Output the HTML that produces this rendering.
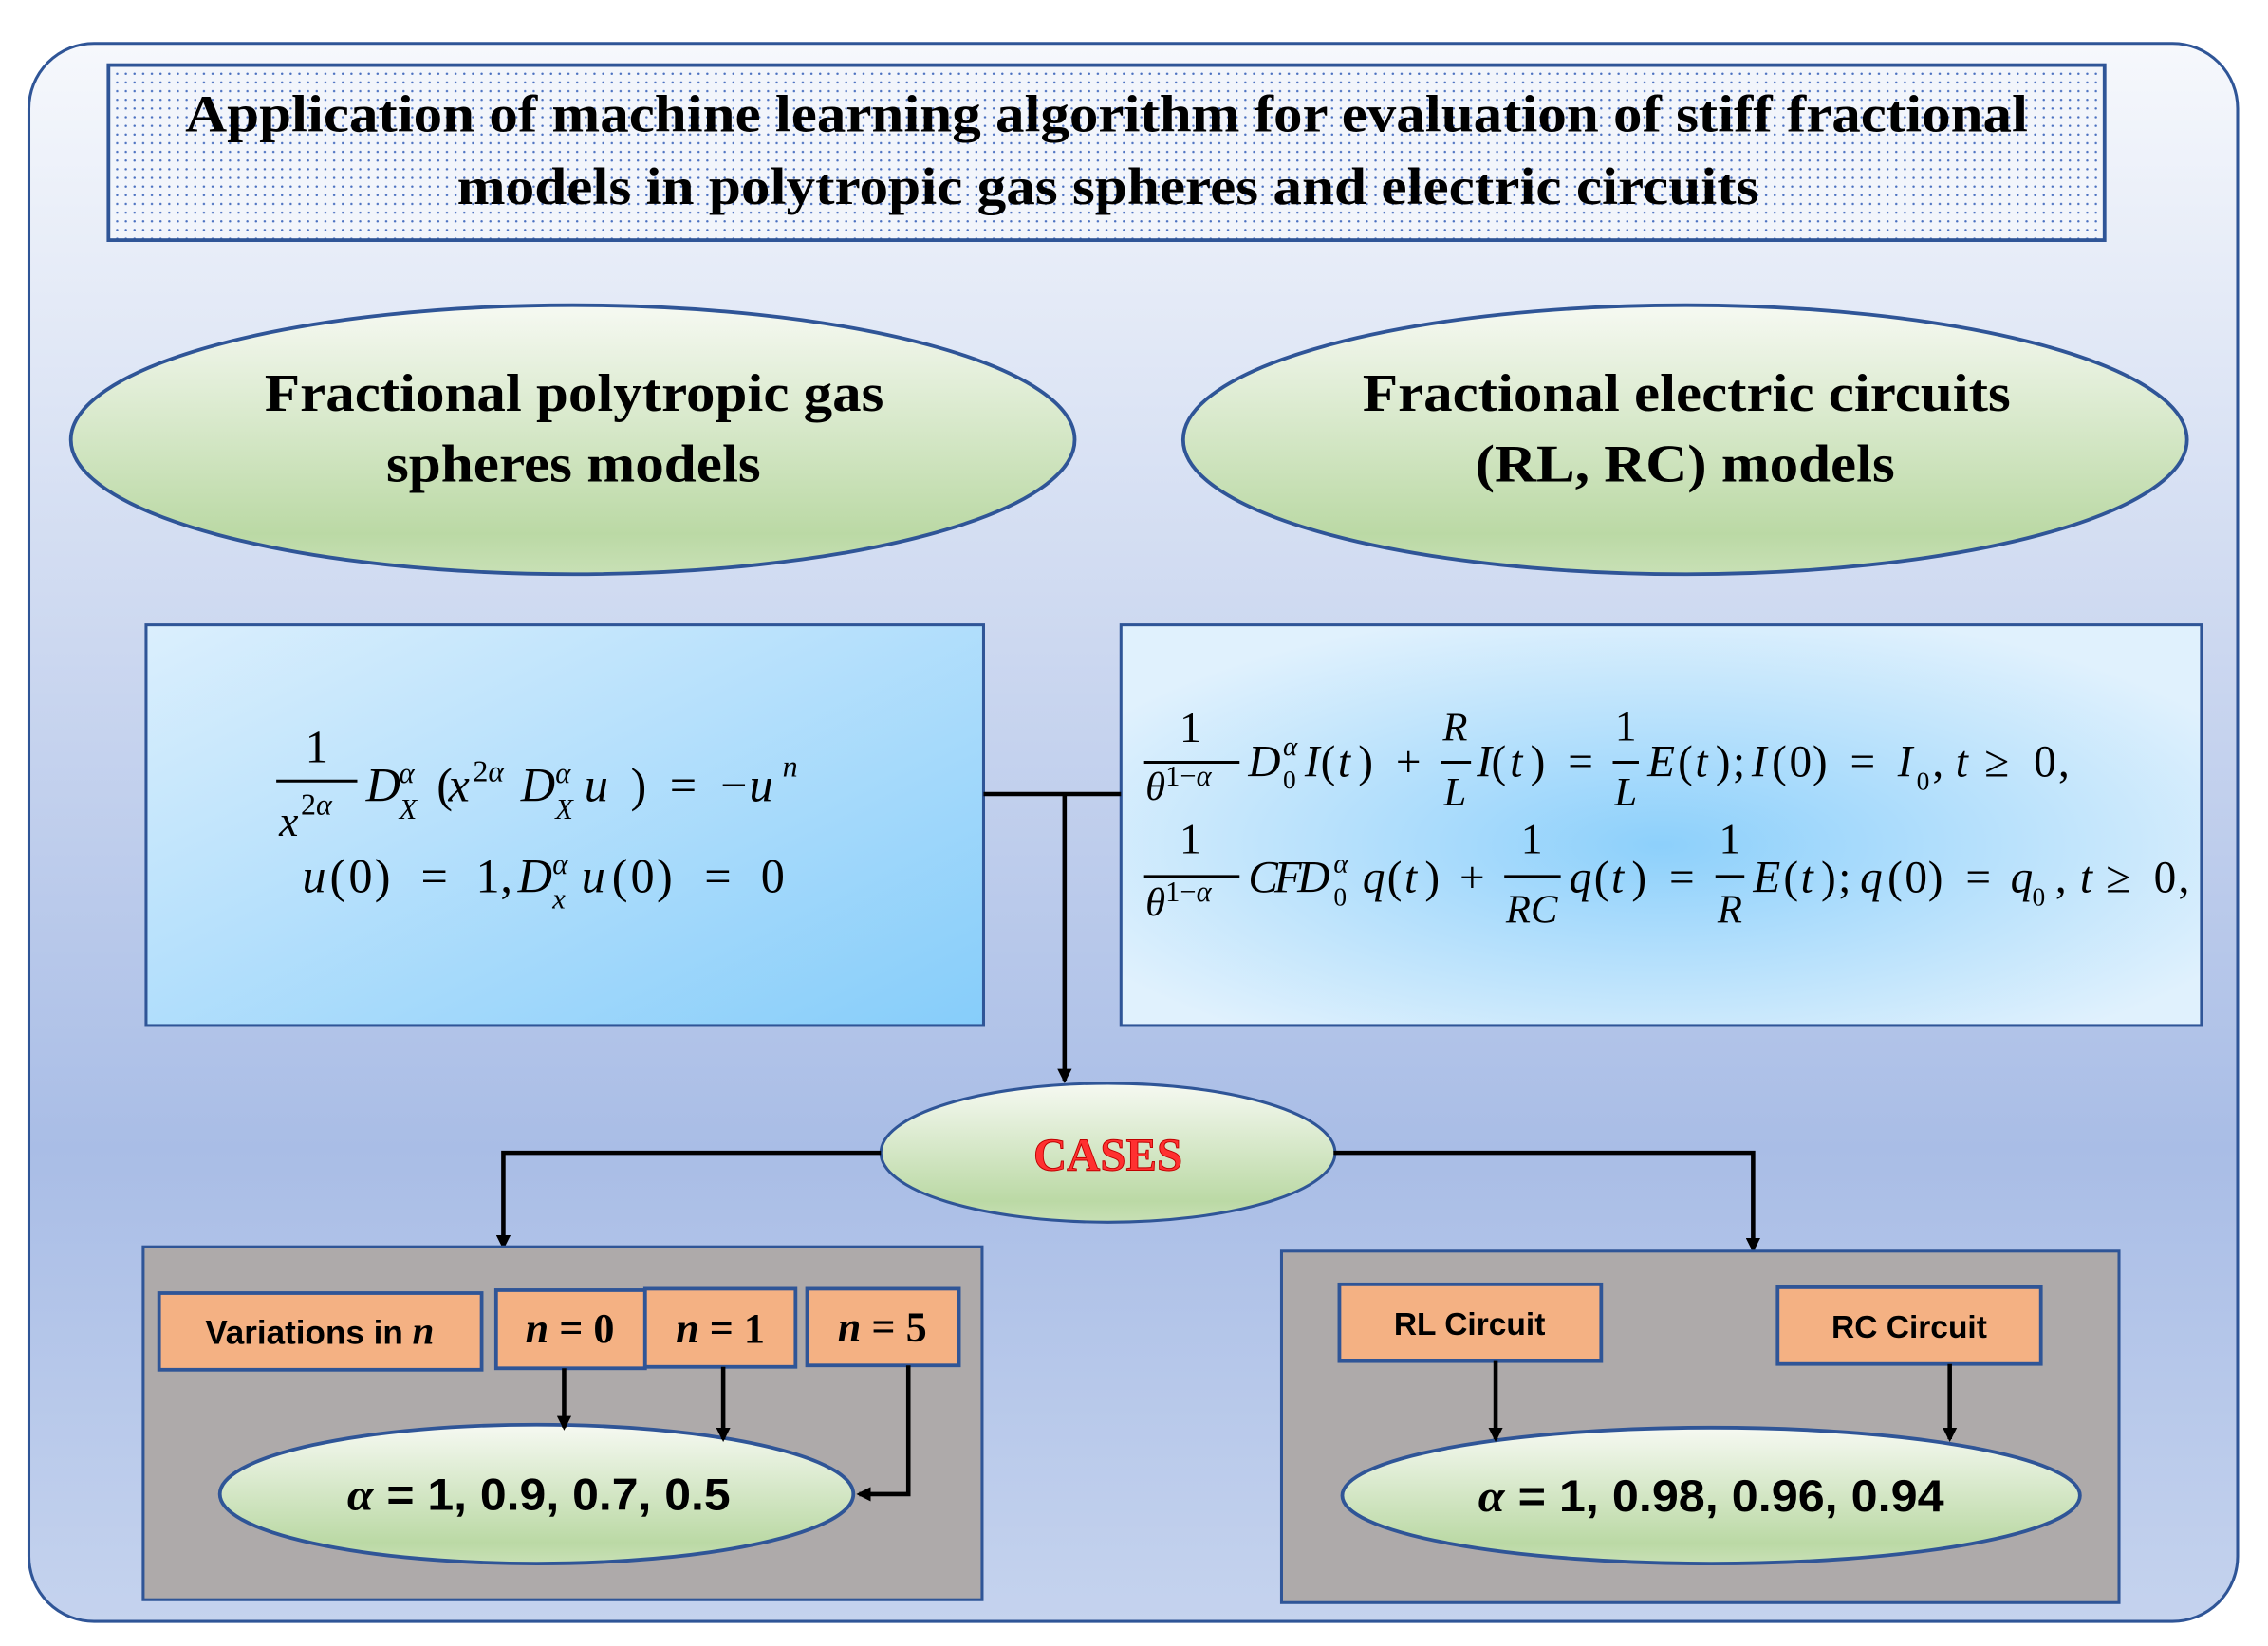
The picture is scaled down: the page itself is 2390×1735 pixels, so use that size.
<!DOCTYPE html>
<html><head><meta charset="utf-8"><style>
html,body{margin:0;padding:0;background:#fff}
svg{display:block}
.t{font-family:"Liberation Serif",serif;font-weight:bold;fill:#000}
.m{font-family:"Liberation Serif",serif;font-style:italic;fill:#000}
.r{font-family:"Liberation Serif",serif;font-style:normal;fill:#000}
.c{font-family:"Liberation Sans",sans-serif;font-weight:bold;fill:#000}
</style></head><body>
<svg width="2390" height="1735" viewBox="0 0 1568 1138" preserveAspectRatio="none" xmlns="http://www.w3.org/2000/svg">
<defs>
<linearGradient id="bg" x1="0" y1="0" x2="0" y2="1">
<stop offset="0" stop-color="#f6f8fc"/><stop offset="0.7" stop-color="#a9bde6"/><stop offset="1" stop-color="#c5d3ee"/>
</linearGradient>
<pattern id="dots" width="6" height="6" patternUnits="userSpaceOnUse">
<rect width="6" height="6" fill="#f2f5fb"/><circle cx="3" cy="3" r="0.8" fill="#4a70c0"/>
</pattern>
<linearGradient id="gr" x1="0" y1="0" x2="0" y2="1">
<stop offset="0" stop-color="#f6f9f2"/><stop offset="0.85" stop-color="#bbd9a5"/><stop offset="1" stop-color="#c8e0b5"/>
</linearGradient>
<linearGradient id="bl" x1="0" y1="0" x2="1" y2="1">
<stop offset="0" stop-color="#dbeffd"/><stop offset="1" stop-color="#86cdfa"/>
</linearGradient>
<radialGradient id="br" cx="0.5" cy="0.55" r="0.6">
<stop offset="0" stop-color="#8dd0fb"/><stop offset="1" stop-color="#e0f1fd"/>
</radialGradient>
<marker id="ah" markerWidth="10" markerHeight="10" refX="8" refY="5" orient="auto" markerUnits="userSpaceOnUse">
<path d="M0,0 L10,5 L0,10 z" fill="#000"/>
</marker>
</defs>
<rect x="20" y="30" width="1527" height="1091" rx="45" fill="url(#bg)" stroke="#2f5597" stroke-width="2"/>
<rect x="75" y="45" width="1380" height="121" fill="url(#dots)" stroke="#2f5597" stroke-width="2.5"/>
<text class="t" x="128" y="91" font-size="36" textLength="1274" lengthAdjust="spacingAndGlyphs">Application of machine learning algorithm for evaluation of stiff fractional</text>
<text class="t" x="316" y="141" font-size="36" textLength="900" lengthAdjust="spacingAndGlyphs">models in polytropic gas spheres and electric circuits</text>

<ellipse cx="396" cy="304" rx="347" ry="93" fill="url(#gr)" stroke="#2f5597" stroke-width="2.5"/>
<ellipse cx="1165" cy="304" rx="347" ry="93" fill="url(#gr)" stroke="#2f5597" stroke-width="2.5"/>
<text class="t" x="183" y="284" font-size="37" textLength="428" lengthAdjust="spacingAndGlyphs">Fractional polytropic gas</text>
<text class="t" x="267" y="333" font-size="37" textLength="259" lengthAdjust="spacingAndGlyphs">spheres models</text>
<text class="t" x="942" y="284" font-size="37" textLength="448" lengthAdjust="spacingAndGlyphs">Fractional electric circuits</text>
<text class="t" x="1020" y="333" font-size="37" textLength="290" lengthAdjust="spacingAndGlyphs">(RL, RC) models</text>

<rect x="101" y="432" width="579" height="277" fill="url(#bl)" stroke="#2f5597" stroke-width="2"/>
<rect x="775" y="432" width="747" height="277" fill="url(#br)" stroke="#2f5597" stroke-width="2"/>

<!-- left equations -->
<text class="r" x="219" y="527" font-size="32" text-anchor="middle">1</text>
<line x1="191" y1="540" x2="247" y2="540" stroke="#000" stroke-width="2"/>
<text class="m" x="193" y="578" font-size="30">x</text>
<text class="r" x="208" y="563" font-size="21">2<tspan class="m">α</tspan></text>
<text class="m" y="554" font-size="33"><tspan x="253">D</tspan><tspan class="r" x="302">(</tspan><tspan x="310">x</tspan><tspan x="360">D</tspan><tspan x="404">u</tspan><tspan class="r" x="436">)</tspan><tspan class="r" x="463">=</tspan><tspan class="r" x="498">−</tspan><tspan x="518">u</tspan></text>
<text class="m" x="276" y="541" font-size="20">α</text>
<text class="m" x="276" y="566" font-size="20">X</text>
<text class="r" x="327" y="540" font-size="21">2<tspan class="m">α</tspan></text>
<text class="m" x="384" y="541" font-size="20">α</text>
<text class="m" x="384" y="566" font-size="20">X</text>
<text class="m" x="541" y="537" font-size="21">n</text>

<text class="m" y="617" font-size="33"><tspan x="209">u</tspan><tspan class="r" x="228">(</tspan><tspan class="r" x="241">0</tspan><tspan class="r" x="259">)</tspan><tspan class="r" x="291">=</tspan><tspan class="r" x="329">1</tspan><tspan class="r" x="346">,</tspan><tspan x="358">D</tspan><tspan x="402">u</tspan><tspan class="r" x="423">(</tspan><tspan class="r" x="436">0</tspan><tspan class="r" x="454">)</tspan><tspan class="r" x="487">=</tspan><tspan class="r" x="526">0</tspan></text>
<text class="m" x="382" y="604" font-size="20">α</text>
<text class="m" x="382" y="628" font-size="20">x</text>

<!-- right equations line 1 -->
<text class="r" x="823" y="513" font-size="30" text-anchor="middle">1</text>
<line x1="791" y1="527" x2="857" y2="527" stroke="#000" stroke-width="2"/>
<text class="m" x="792" y="553" font-size="28">θ<tspan dy="-10" font-size="20" class="r">1−</tspan><tspan font-size="20">α</tspan></text>
<text class="m" y="537" font-size="31"><tspan x="863">D</tspan><tspan x="902">I</tspan><tspan class="r" x="913">(</tspan><tspan x="925">t</tspan><tspan class="r" x="939">)</tspan><tspan class="r" x="965">+</tspan><tspan x="1021">I</tspan><tspan class="r" x="1031">(</tspan><tspan x="1044">t</tspan><tspan class="r" x="1058">)</tspan><tspan class="r" x="1084">=</tspan><tspan x="1139">E</tspan><tspan class="r" x="1160">(</tspan><tspan x="1172">t</tspan><tspan class="r" x="1186">)</tspan><tspan class="r" x="1198">;</tspan><tspan x="1211">I</tspan><tspan class="r" x="1225">(</tspan><tspan class="r" x="1237">0</tspan><tspan class="r" x="1253">)</tspan><tspan class="r" x="1279">=</tspan><tspan x="1312">I</tspan><tspan class="r" x="1336">,</tspan><tspan x="1352">t</tspan><tspan class="r" x="1372">≥</tspan><tspan class="r" x="1406">0</tspan><tspan class="r" x="1423">,</tspan></text>
<text class="m" x="887" y="522" font-size="19">α</text>
<text class="r" x="887" y="545" font-size="18">0</text>
<text class="r" x="1325" y="546" font-size="18">0</text>
<text class="m" x="1006" y="512" font-size="28" text-anchor="middle">R</text>
<line x1="996" y1="527" x2="1017" y2="527" stroke="#000" stroke-width="2"/>
<text class="m" x="1006" y="557" font-size="28" text-anchor="middle">L</text>
<text class="r" x="1124" y="512" font-size="30" text-anchor="middle">1</text>
<line x1="1115" y1="527" x2="1133" y2="527" stroke="#000" stroke-width="2"/>
<text class="m" x="1124" y="557" font-size="28" text-anchor="middle">L</text>

<!-- right equations line 2 -->
<text class="r" x="823" y="590" font-size="30" text-anchor="middle">1</text>
<line x1="791" y1="606" x2="857" y2="606" stroke="#000" stroke-width="2"/>
<text class="m" x="792" y="633" font-size="28">θ<tspan dy="-10" font-size="20" class="r">1−</tspan><tspan font-size="20">α</tspan></text>
<text class="m" y="617" font-size="31"><tspan x="863">C</tspan><tspan x="881">F</tspan><tspan x="897">D</tspan><tspan x="942">q</tspan><tspan class="r" x="959">(</tspan><tspan x="971">t</tspan><tspan class="r" x="985">)</tspan><tspan class="r" x="1009">+</tspan><tspan x="1085">q</tspan><tspan class="r" x="1102">(</tspan><tspan x="1114">t</tspan><tspan class="r" x="1128">)</tspan><tspan class="r" x="1154">=</tspan><tspan x="1212">E</tspan><tspan class="r" x="1233">(</tspan><tspan x="1245">t</tspan><tspan class="r" x="1259">)</tspan><tspan class="r" x="1271">;</tspan><tspan x="1286">q</tspan><tspan class="r" x="1305">(</tspan><tspan class="r" x="1317">0</tspan><tspan class="r" x="1333">)</tspan><tspan class="r" x="1359">=</tspan><tspan x="1390">q</tspan><tspan class="r" x="1421">,</tspan><tspan x="1438">t</tspan><tspan class="r" x="1456">≥</tspan><tspan class="r" x="1489">0</tspan><tspan class="r" x="1506">,</tspan></text>
<text class="m" x="922" y="603" font-size="19">α</text>
<text class="r" x="922" y="626" font-size="18">0</text>
<text class="r" x="1405" y="626" font-size="18">0</text>
<text class="r" x="1059" y="590" font-size="30" text-anchor="middle">1</text>
<line x1="1040" y1="606" x2="1079" y2="606" stroke="#000" stroke-width="2"/>
<text class="m" x="1059" y="638" font-size="28" text-anchor="middle">RC</text>
<text class="r" x="1196" y="590" font-size="30" text-anchor="middle">1</text>
<line x1="1186" y1="606" x2="1206" y2="606" stroke="#000" stroke-width="2"/>
<text class="m" x="1196" y="638" font-size="28" text-anchor="middle">R</text>

<!-- connectors -->
<polyline points="680,549 775,549" fill="none" stroke="#000" stroke-width="3"/>
<line x1="736" y1="549" x2="736" y2="747" stroke="#000" stroke-width="3" marker-end="url(#ah)"/>

<ellipse cx="766" cy="797" rx="157" ry="48" fill="url(#gr)" stroke="#2f5597" stroke-width="2"/>
<text x="766" y="809" font-size="32" text-anchor="middle" font-family="Liberation Serif,serif" font-weight="bold" fill="#ff3030" stroke="#c00000" stroke-width="0.6">CASES</text>

<polyline points="609,797 348,797 348,862" fill="none" stroke="#000" stroke-width="3" marker-end="url(#ah)"/>
<polyline points="922,797 1212,797 1212,864" fill="none" stroke="#000" stroke-width="3" marker-end="url(#ah)"/>

<!-- bottom left -->
<rect x="99" y="862" width="580" height="244" fill="#aeaaaa" stroke="#2f5597" stroke-width="2"/>
<rect x="110" y="894" width="223" height="53" fill="#f4b183" stroke="#2f5597" stroke-width="2.5"/>
<rect x="343" y="892" width="103" height="54" fill="#f4b183" stroke="#2f5597" stroke-width="2.5"/>
<rect x="446" y="891" width="104" height="54" fill="#f4b183" stroke="#2f5597" stroke-width="2.5"/>
<rect x="558" y="891" width="105" height="53" fill="#f4b183" stroke="#2f5597" stroke-width="2.5"/>
<text class="c" x="221" y="929" font-size="23" text-anchor="middle">Variations in <tspan class="m" font-weight="bold" font-size="27">n</tspan></text>
<text class="m" x="394" y="928" font-size="29" text-anchor="middle" font-weight="bold">n <tspan class="r">= 0</tspan></text>
<text class="m" x="498" y="928" font-size="29" text-anchor="middle" font-weight="bold">n <tspan class="r">= 1</tspan></text>
<text class="m" x="610" y="927" font-size="29" text-anchor="middle" font-weight="bold">n <tspan class="r">= 5</tspan></text>
<ellipse cx="371" cy="1033" rx="219" ry="48" fill="url(#gr)" stroke="#2f5597" stroke-width="2.5"/>
<text class="c" x="240" y="1044" font-size="31" textLength="265" lengthAdjust="spacingAndGlyphs"><tspan class="m" font-weight="bold">α</tspan> = 1, 0.9, 0.7, 0.5</text>
<line x1="390" y1="946" x2="390" y2="987" stroke="#000" stroke-width="3" marker-end="url(#ah)"/>
<line x1="500" y1="945" x2="500" y2="995" stroke="#000" stroke-width="3" marker-end="url(#ah)"/>
<polyline points="628,944 628,1033 594,1033" fill="none" stroke="#000" stroke-width="3" marker-end="url(#ah)"/>

<!-- bottom right -->
<rect x="886" y="865" width="579" height="243" fill="#aeaaaa" stroke="#2f5597" stroke-width="2"/>
<rect x="926" y="888" width="181" height="53" fill="#f4b183" stroke="#2f5597" stroke-width="2.5"/>
<rect x="1229" y="890" width="182" height="53" fill="#f4b183" stroke="#2f5597" stroke-width="2.5"/>
<text class="c" x="1016" y="923" font-size="22" text-anchor="middle">RL Circuit</text>
<text class="c" x="1320" y="925" font-size="22" text-anchor="middle">RC Circuit</text>
<ellipse cx="1183" cy="1034" rx="255" ry="47" fill="url(#gr)" stroke="#2f5597" stroke-width="2.5"/>
<text class="c" x="1022" y="1045" font-size="31" textLength="322" lengthAdjust="spacingAndGlyphs"><tspan class="m" font-weight="bold">α</tspan> = 1, 0.98, 0.96, 0.94</text>
<line x1="1034" y1="941" x2="1034" y2="995" stroke="#000" stroke-width="3" marker-end="url(#ah)"/>
<line x1="1348" y1="943" x2="1348" y2="995" stroke="#000" stroke-width="3" marker-end="url(#ah)"/>
</svg>
</body></html>
